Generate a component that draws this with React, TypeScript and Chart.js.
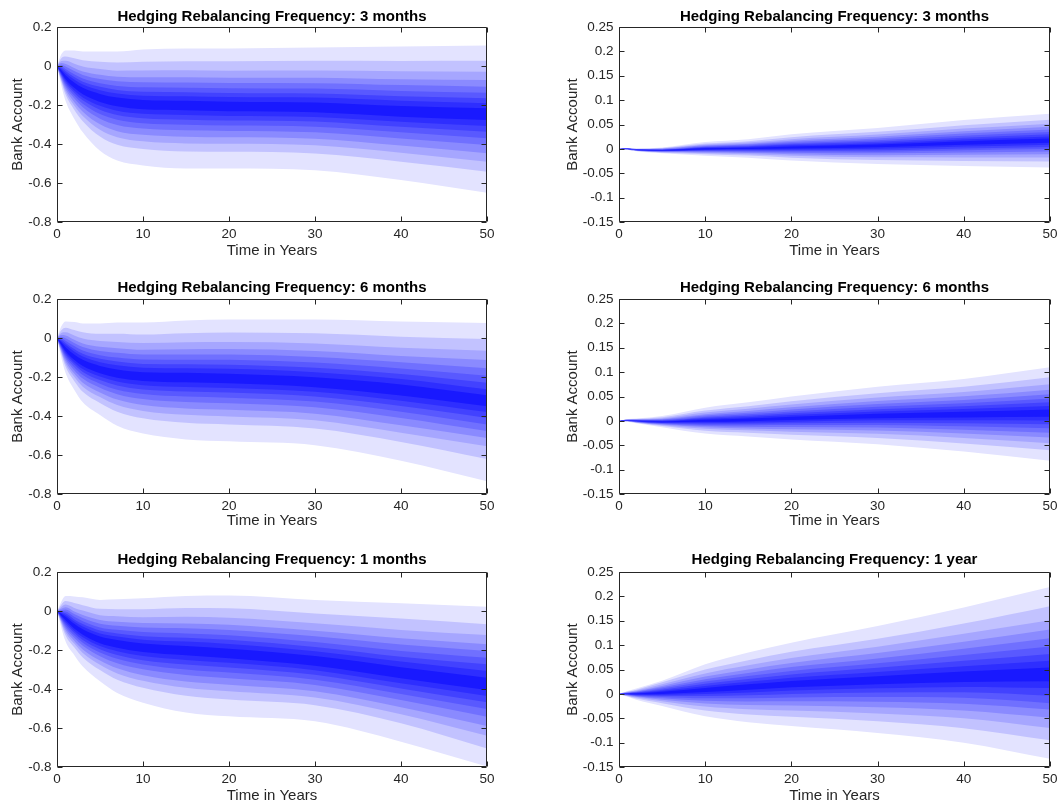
import React, { useEffect, useRef } from "react";
import { Chart, registerables } from "chart.js";

Chart.register(...registerables);

// ---------------- DATA ----------------
// Each column holds the 5th,10th,...,95th percentiles of the bank account at one time point.
const percentiles = [5, 10, 15, 20, 25, 30, 35, 40, 45, 50, 55, 60, 65, 70, 75, 80, 85, 90, 95];

const titles = [
  "Hedging Rebalancing Frequency: 3 months",
  "Hedging Rebalancing Frequency: 3 months",
  "Hedging Rebalancing Frequency: 6 months",
  "Hedging Rebalancing Frequency: 6 months",
  "Hedging Rebalancing Frequency: 1 months",
  "Hedging Rebalancing Frequency: 1 year",
];

const xTicks = [0, 10, 20, 30, 40, 50];
const leftYTicks = [-0.8, -0.6, -0.4, -0.2, 0, 0.2];
const rightYTicks = [-0.15, -0.1, -0.05, 0, 0.05, 0.1, 0.15, 0.2, 0.25];

const years3mLeft = [0, 0.5, 1, 2, 3, 5, 7, 10, 15, 20, 30, 40, 50];
const bank3mLeft = [
  [0, 0, 0, 0, 0, 0, 0, 0, 0, 0, 0, 0, 0, 0, 0, 0, 0, 0, 0],
  [-0.10, -0.081, -0.072, -0.065, -0.057, -0.051, -0.045, -0.040, -0.035, -0.03, -0.022, -0.015, -0.008, -0.001, 0.007, 0.015, 0.026, 0.040, 0.06],
  [-0.18, -0.148, -0.132, -0.119, -0.107, -0.096, -0.086, -0.077, -0.068, -0.06, -0.047, -0.036, -0.026, -0.015, -0.003, 0.010, 0.027, 0.049, 0.08],
  [-0.27, -0.224, -0.202, -0.184, -0.166, -0.151, -0.137, -0.125, -0.112, -0.10, -0.084, -0.069, -0.057, -0.042, -0.026, -0.010, 0.012, 0.040, 0.08],
  [-0.34, -0.283, -0.256, -0.234, -0.212, -0.193, -0.176, -0.161, -0.145, -0.13, -0.112, -0.095, -0.081, -0.064, -0.046, -0.028, -0.003, 0.030, 0.075],
  [-0.435, -0.362, -0.327, -0.299, -0.270, -0.246, -0.224, -0.204, -0.184, -0.165, -0.143, -0.124, -0.107, -0.088, -0.067, -0.045, -0.016, 0.022, 0.075],
  [-0.485, -0.404, -0.365, -0.334, -0.302, -0.275, -0.251, -0.229, -0.206, -0.185, -0.162, -0.141, -0.123, -0.102, -0.078, -0.055, -0.024, 0.018, 0.075],
  [-0.51, -0.426, -0.386, -0.353, -0.321, -0.293, -0.268, -0.245, -0.222, -0.20, -0.174, -0.152, -0.132, -0.109, -0.083, -0.058, -0.023, 0.022, 0.085],
  [-0.525, -0.439, -0.397, -0.363, -0.330, -0.301, -0.275, -0.251, -0.227, -0.205, -0.178, -0.155, -0.134, -0.111, -0.084, -0.058, -0.022, 0.025, 0.09],
  [-0.525, -0.44, -0.399, -0.366, -0.333, -0.305, -0.279, -0.256, -0.232, -0.21, -0.183, -0.159, -0.138, -0.114, -0.087, -0.06, -0.024, 0.024, 0.09],
  [-0.535, -0.449, -0.407, -0.373, -0.340, -0.311, -0.285, -0.261, -0.237, -0.215, -0.187, -0.162, -0.141, -0.116, -0.088, -0.06, -0.023, 0.027, 0.095],
  [-0.585, -0.491, -0.445, -0.408, -0.372, -0.34, -0.312, -0.286, -0.26, -0.235, -0.205, -0.178, -0.155, -0.128, -0.098, -0.068, -0.027, 0.026, 0.10],
  [-0.65, -0.542, -0.491, -0.448, -0.405, -0.371, -0.337, -0.308, -0.277, -0.25, -0.217, -0.191, -0.166, -0.137, -0.106, -0.072, -0.029, 0.027, 0.105],
];

const years6mLeft = [0, 0.5, 1, 2, 3, 5, 7, 10, 15, 20, 30, 40, 50];
const bank6mLeft = [
  [0, 0, 0, 0, 0, 0, 0, 0, 0, 0, 0, 0, 0, 0, 0, 0, 0, 0, 0],
  [-0.10, -0.081, -0.072, -0.065, -0.057, -0.051, -0.045, -0.040, -0.035, -0.03, -0.022, -0.015, -0.008, -0.001, 0.007, 0.015, 0.026, 0.040, 0.06],
  [-0.18, -0.148, -0.132, -0.119, -0.107, -0.096, -0.086, -0.077, -0.068, -0.06, -0.047, -0.035, -0.025, -0.014, -0.001, 0.013, 0.030, 0.053, 0.085],
  [-0.265, -0.22, -0.199, -0.182, -0.165, -0.15, -0.136, -0.124, -0.112, -0.10, -0.084, -0.069, -0.056, -0.041, -0.025, -0.009, 0.013, 0.041, 0.082],
  [-0.33, -0.276, -0.25, -0.229, -0.208, -0.19, -0.174, -0.159, -0.144, -0.13, -0.112, -0.095, -0.081, -0.064, -0.046, -0.028, -0.003, 0.030, 0.075],
  [-0.395, -0.333, -0.303, -0.279, -0.255, -0.234, -0.216, -0.198, -0.181, -0.165, -0.143, -0.124, -0.107, -0.088, -0.067, -0.045, -0.016, 0.022, 0.075],
  [-0.45, -0.378, -0.344, -0.316, -0.288, -0.265, -0.243, -0.223, -0.204, -0.185, -0.161, -0.14, -0.121, -0.10, -0.076, -0.052, -0.021, 0.022, 0.08],
  [-0.49, -0.412, -0.374, -0.344, -0.313, -0.287, -0.264, -0.242, -0.22, -0.20, -0.175, -0.152, -0.133, -0.11, -0.085, -0.06, -0.026, 0.018, 0.08],
  [-0.52, -0.435, -0.394, -0.361, -0.328, -0.30, -0.274, -0.251, -0.227, -0.205, -0.178, -0.155, -0.134, -0.111, -0.084, -0.058, -0.022, 0.025, 0.09],
  [-0.53, -0.444, -0.402, -0.368, -0.335, -0.306, -0.28, -0.256, -0.232, -0.21, -0.183, -0.158, -0.137, -0.112, -0.085, -0.057, -0.021, 0.028, 0.095],
  [-0.55, -0.464, -0.422, -0.388, -0.355, -0.326, -0.30, -0.276, -0.252, -0.23, -0.201, -0.175, -0.152, -0.126, -0.097, -0.067, -0.028, 0.024, 0.095],
  [-0.63, -0.533, -0.486, -0.448, -0.41, -0.378, -0.349, -0.322, -0.295, -0.27, -0.238, -0.21, -0.185, -0.156, -0.124, -0.092, -0.05, 0.007, 0.085],
  [-0.735, -0.62, -0.555, -0.513, -0.477, -0.443, -0.41, -0.38, -0.35, -0.322, -0.293, -0.263, -0.23, -0.193, -0.155, -0.113, -0.065, -0.005, 0.077],
];

const years1mLeft = [0, 1, 2, 3, 5, 7, 10, 15, 20, 30, 40, 50];
const bank1mLeft = [
  [0, 0, 0, 0, 0, 0, 0, 0, 0, 0, 0, 0, 0, 0, 0, 0, 0, 0, 0],
  [-0.157, -0.125, -0.11, -0.098, -0.086, -0.075, -0.066, -0.057, -0.048, -0.04, -0.029, -0.02, -0.012, -0.003, 0.008, 0.019, 0.033, 0.051, 0.077],
  [-0.225, -0.186, -0.167, -0.152, -0.137, -0.124, -0.112, -0.101, -0.09, -0.08, -0.066, -0.054, -0.043, -0.03, -0.016, -0.002, 0.016, 0.041, 0.075],
  [-0.285, -0.238, -0.215, -0.197, -0.178, -0.163, -0.149, -0.135, -0.122, -0.11, -0.094, -0.079, -0.067, -0.052, -0.036, -0.02, 0.002, 0.03, 0.07],
  [-0.36, -0.303, -0.276, -0.254, -0.232, -0.213, -0.196, -0.18, -0.165, -0.15, -0.131, -0.115, -0.10, -0.084, -0.065, -0.046, -0.022, 0.011, 0.057],
  [-0.42, -0.353, -0.32, -0.294, -0.268, -0.245, -0.225, -0.206, -0.188, -0.17, -0.149, -0.131, -0.115, -0.096, -0.076, -0.055, -0.027, 0.009, 0.06],
  [-0.47, -0.394, -0.358, -0.329, -0.299, -0.274, -0.252, -0.231, -0.21, -0.19, -0.167, -0.147, -0.129, -0.108, -0.085, -0.062, -0.032, 0.009, 0.065],
  [-0.52, -0.435, -0.394, -0.361, -0.328, -0.30, -0.274, -0.251, -0.227, -0.205, -0.18, -0.157, -0.137, -0.115, -0.089, -0.064, -0.03, 0.015, 0.077],
  [-0.54, -0.454, -0.412, -0.378, -0.345, -0.316, -0.29, -0.266, -0.242, -0.22, -0.193, -0.169, -0.148, -0.124, -0.097, -0.07, -0.034, 0.014, 0.08],
  [-0.566, -0.483, -0.444, -0.411, -0.379, -0.352, -0.327, -0.304, -0.281, -0.26, -0.231, -0.206, -0.184, -0.159, -0.13, -0.101, -0.063, -0.013, 0.057],
  [-0.67, -0.576, -0.53, -0.493, -0.457, -0.425, -0.397, -0.371, -0.345, -0.32, -0.288, -0.259, -0.234, -0.205, -0.172, -0.14, -0.097, -0.039, 0.04],
  [-0.798, -0.705, -0.64, -0.59, -0.542, -0.503, -0.468, -0.436, -0.405, -0.371, -0.342, -0.308, -0.273, -0.24, -0.205, -0.171, -0.123, -0.068, 0.022],
];

const years3mRight = [0, 1, 2, 5, 10, 15, 20, 30, 40, 50];
const bank3mRight = [
  [0, 0, 0, 0, 0, 0, 0, 0, 0, 0, 0, 0, 0, 0, 0, 0, 0, 0, 0],
  [-0.002, -0.0016, -0.0013, -0.001, -0.0008, -0.0006, -0.0005, -0.0003, -0.0002, 0, 0.0002, 0.0003, 0.0005, 0.0006, 0.0008, 0.001, 0.0013, 0.0016, 0.002],
  [-0.005, -0.0043, -0.0039, -0.0035, -0.0032, -0.003, -0.0027, -0.0025, -0.0022, -0.002, -0.0018, -0.0015, -0.0013, -0.001, -0.0008, -0.0005, -0.0001, 0.0003, 0.001],
  [-0.009, -0.0077, -0.0068, -0.0061, -0.0055, -0.0049, -0.0044, -0.0039, -0.0035, -0.003, -0.0025, -0.0021, -0.0016, -0.0011, -0.0005, 0.0001, 0.0008, 0.0017, 0.003],
  [-0.014, -0.0109, -0.0088, -0.0072, -0.0057, -0.0045, -0.0033, -0.0022, -0.0011, 0, 0.0011, 0.0022, 0.0033, 0.0045, 0.0057, 0.0072, 0.0088, 0.0109, 0.014],
  [-0.018, -0.0138, -0.011, -0.0087, -0.0068, -0.0051, -0.0034, -0.0019, -0.0005, 0.001, 0.0025, 0.0039, 0.0054, 0.0071, 0.0088, 0.0107, 0.013, 0.0158, 0.02],
  [-0.024, -0.0181, -0.014, -0.0108, -0.0081, -0.0056, -0.0033, -0.0012, 0.0009, 0.003, 0.0051, 0.0072, 0.0093, 0.0116, 0.0141, 0.0168, 0.02, 0.0241, 0.03],
  [-0.031, -0.0229, -0.0173, -0.0129, -0.0092, -0.0058, -0.0027, 0.0003, 0.0032, 0.006, 0.0088, 0.0117, 0.0147, 0.0178, 0.0212, 0.0249, 0.0293, 0.0349, 0.043],
  [-0.035, -0.0247, -0.0176, -0.0121, -0.0073, -0.003, 0.001, 0.0048, 0.0084, 0.012, 0.0156, 0.0192, 0.023, 0.027, 0.0313, 0.0361, 0.0416, 0.0487, 0.059],
  [-0.038, -0.0259, -0.0177, -0.0112, -0.0056, -0.0005, 0.0041, 0.0085, 0.0128, 0.017, 0.0212, 0.0255, 0.0299, 0.0345, 0.0396, 0.0452, 0.0517, 0.0599, 0.072],
];

const years6mRight = [0, 1, 2, 5, 10, 15, 20, 30, 40, 50];
const bank6mRight = [
  [0, 0, 0, 0, 0, 0, 0, 0, 0, 0, 0, 0, 0, 0, 0, 0, 0, 0, 0],
  [-0.002, -0.0013, -0.0009, -0.0005, -0.0002, 0, 0.0003, 0.0005, 0.0008, 0.001, 0.0012, 0.0015, 0.0017, 0.002, 0.0022, 0.0025, 0.0029, 0.0033, 0.004],
  [-0.005, -0.0039, -0.0032, -0.0026, -0.0021, -0.0016, -0.0012, -0.0008, -0.0004, 0, 0.0004, 0.0008, 0.0012, 0.0016, 0.0021, 0.0026, 0.0032, 0.0039, 0.005],
  [-0.013, -0.0106, -0.0089, -0.0076, -0.0065, -0.0055, -0.0046, -0.0037, -0.0028, -0.002, -0.0011, -0.0002, 0.0008, 0.0018, 0.0029, 0.0041, 0.0056, 0.0074, 0.01],
  [-0.026, -0.0203, -0.0164, -0.0133, -0.0107, -0.0083, -0.0061, -0.004, -0.002, 0, 0.0021, 0.0042, 0.0063, 0.0086, 0.0111, 0.0138, 0.017, 0.0211, 0.027],
  [-0.032, -0.0245, -0.0194, -0.0154, -0.0119, -0.0088, -0.006, -0.0032, -0.0006, 0.002, 0.0048, 0.0075, 0.0104, 0.0135, 0.0168, 0.0204, 0.0247, 0.0301, 0.038],
  [-0.038, -0.0285, -0.0221, -0.017, -0.0126, -0.0087, -0.0051, -0.0016, 0.0017, 0.005, 0.0085, 0.0119, 0.0155, 0.0194, 0.0235, 0.028, 0.0334, 0.0401, 0.05],
  [-0.048, -0.0352, -0.0265, -0.0197, -0.0138, -0.0085, -0.0036, 0.0011, 0.0055, 0.01, 0.0146, 0.0192, 0.024, 0.0291, 0.0346, 0.0407, 0.0478, 0.0568, 0.07],
  [-0.063, -0.0463, -0.0349, -0.0259, -0.0182, -0.0112, -0.0048, 0.0013, 0.0071, 0.013, 0.0186, 0.0242, 0.0301, 0.0363, 0.0429, 0.0504, 0.059, 0.0699, 0.086],
  [-0.082, -0.0604, -0.0457, -0.0342, -0.0242, -0.0153, -0.0069, 0.0009, 0.0085, 0.016, 0.0232, 0.0305, 0.038, 0.046, 0.0545, 0.0641, 0.0752, 0.0893, 0.11],
];

const years1yRight = [0, 1, 2, 5, 10, 15, 20, 30, 40, 50];
const bank1yRight = [
  [0, 0, 0, 0, 0, 0, 0, 0, 0, 0, 0, 0, 0, 0, 0, 0, 0, 0, 0],
  [-0.006, -0.0047, -0.0038, -0.0031, -0.0025, -0.0019, -0.0014, -0.0009, -0.0005, 0, 0.0005, 0.0009, 0.0014, 0.0019, 0.0025, 0.0031, 0.0038, 0.0047, 0.006],
  [-0.012, -0.0094, -0.0076, -0.0061, -0.0049, -0.0038, -0.0028, -0.0018, -0.0009, 0, 0.0008, 0.0017, 0.0026, 0.0035, 0.0045, 0.0056, 0.0069, 0.0086, 0.011],
  [-0.025, -0.0191, -0.015, -0.0118, -0.0091, -0.0066, -0.0043, -0.0022, -0.0001, 0.002, 0.0042, 0.0063, 0.0086, 0.0109, 0.0135, 0.0163, 0.0196, 0.0238, 0.027],
  [-0.046, -0.0341, -0.026, -0.0196, -0.0141, -0.0092, -0.0046, -0.0003, 0.0038, 0.008, 0.0122, 0.0163, 0.0206, 0.0252, 0.03, 0.0355, 0.0418, 0.0498, 0.061],
  [-0.058, -0.0422, -0.0314, -0.0229, -0.0155, -0.009, -0.0028, 0.0029, 0.0085, 0.014, 0.0195, 0.025, 0.0306, 0.0366, 0.043, 0.0502, 0.0585, 0.069, 0.085],
  [-0.066, -0.0471, -0.0342, -0.024, -0.0153, -0.0074, -0.0001, 0.0068, 0.0134, 0.02, 0.0265, 0.0331, 0.0399, 0.0471, 0.0549, 0.0635, 0.0736, 0.0863, 0.105],
  [-0.08, -0.0562, -0.04, -0.0273, -0.0163, -0.0065, 0.0027, 0.0114, 0.0197, 0.028, 0.0364, 0.0448, 0.0535, 0.0628, 0.0727, 0.0838, 0.0967, 0.113, 0.139],
  [-0.1, -0.0703, -0.05, -0.0341, -0.0204, -0.0081, 0.0034, 0.0142, 0.0246, 0.035, 0.0458, 0.0566, 0.0678, 0.0797, 0.0924, 0.1067, 0.1232, 0.1442, 0.177],
  [-0.133, -0.095, -0.07, -0.049, -0.032, -0.019, -0.004, 0.012, 0.026, 0.04, 0.054, 0.068, 0.082, 0.097, 0.114, 0.132, 0.151, 0.18, 0.219],
];

// ---------------- LAYOUT / STYLE ----------------
const FONT = "'Liberation Sans', Arial, Helvetica, sans-serif";
const AXIS_COLOR = "#262626";
// blue intensity of the nested bands, from the outermost (5-95) to the central one (45-55)
const bandShades = [0.11, 0.24, 0.35, 0.46, 0.56, 0.65, 0.74, 0.82, 0.9];

const columnsLayout = [
  { cx: 0, cw: 530, L: 57, R: 487, yTitlePad: 10.8 },
  { cx: 530, cw: 533, L: 619, R: 1050, yTitlePad: 35 },
];
const rowsLayout = [
  { cy: 0, ch: 268, T: 27, B: 222, titleMid: 16.7, xTitleMid: 250.7 },
  { cy: 268, ch: 272, T: 299, B: 494, titleMid: 288, xTitleMid: 521 },
  { cy: 540, ch: 263, T: 572, B: 767, titleMid: 560, xTitleMid: 795.5 },
];

type PanelSpec = {
  title: string;
  times: number[];
  cols: number[][];
  yTicks: number[];
  row: number;
  col: number;
};

const panels: PanelSpec[] = [
  { title: titles[0], times: years3mLeft, cols: bank3mLeft, yTicks: leftYTicks, row: 0, col: 0 },
  { title: titles[1], times: years3mRight, cols: bank3mRight, yTicks: rightYTicks, row: 0, col: 1 },
  { title: titles[2], times: years6mLeft, cols: bank6mLeft, yTicks: leftYTicks, row: 1, col: 0 },
  { title: titles[3], times: years6mRight, cols: bank6mRight, yTicks: rightYTicks, row: 1, col: 1 },
  { title: titles[4], times: years1mLeft, cols: bank1mLeft, yTicks: leftYTicks, row: 2, col: 0 },
  { title: titles[5], times: years1yRight, cols: bank1yRight, yTicks: rightYTicks, row: 2, col: 1 },
];

function shade(level: number) {
  const a = bandShades[Math.min(level, bandShades.length - 1)];
  const c = Math.round(255 * (1 - a));
  return `rgb(${c},${c},255)`;
}

const boxPlugin = {
  id: "matlabBox",
  afterDraw(chart: any) {
    const { ctx, chartArea, scales } = chart;
    const L = Math.round(chartArea.left) + 0.5;
    const R = Math.round(chartArea.right) - 0.5;
    const T = Math.round(chartArea.top) + 0.5;
    const B = Math.round(chartArea.bottom) - 0.5;
    ctx.save();
    ctx.strokeStyle = AXIS_COLOR;
    ctx.lineWidth = 1;
    ctx.beginPath();
    ctx.rect(L, T, R - L, B - T);
    const tl = 5;
    scales.x.ticks.forEach((t: any) => {
      const px = Math.round(scales.x.getPixelForValue(t.value)) + 0.5;
      ctx.moveTo(px, B);
      ctx.lineTo(px, B - tl);
      ctx.moveTo(px, T);
      ctx.lineTo(px, T + tl);
    });
    scales.y.ticks.forEach((t: any) => {
      const py = Math.round(scales.y.getPixelForValue(t.value)) + 0.5;
      ctx.moveTo(L, py);
      ctx.lineTo(L + tl, py);
      ctx.moveTo(R, py);
      ctx.lineTo(R - tl, py);
    });
    ctx.stroke();
    ctx.restore();
  },
};

function Panel({ spec }: { spec: PanelSpec }) {
  const ref = useRef<HTMLCanvasElement>(null);
  const colL = columnsLayout[spec.col];
  const rowL = rowsLayout[spec.row];

  useEffect(() => {
    const canvas = ref.current;
    if (!canvas) return;
    const n = percentiles.length; // 19 lines
    const half = Math.floor(n / 2); // 9 nested bands
    // Lower percentile line k (k < 9) fills up to its mirror line (n-1-k);
    // outer bands are drawn first (higher order), inner darker bands on top.
    const datasets = percentiles.map((p, k) => {
      const isLower = k < half;
      return {
        label: `P${p}`,
        data: spec.times.map((t, j) => ({ x: t, y: spec.cols[j][k] })),
        fill: isLower ? n - 1 - k : false,
        backgroundColor: isLower ? shade(k) : "transparent",
        borderColor: "transparent",
        borderWidth: 0,
        pointRadius: 0,
        order: isLower ? 100 - k : 0,
        cubicInterpolationMode: "monotone" as const,
      };
    });

    const yMin = spec.yTicks[0];
    const yMax = spec.yTicks[spec.yTicks.length - 1];
    const titlePadTop = rowL.titleMid - rowL.cy - 7.5;
    const titlePadBottom = rowL.T - rowL.cy - 15 - titlePadTop;
    const xTitlePad = Math.max(0, rowL.cy + rowL.ch - rowL.xTitleMid - 7.5);

    const chart = new Chart(canvas, {
      type: "line",
      data: { datasets },
      plugins: [boxPlugin],
      options: {
        responsive: false,
        animation: false,
        events: [],
        layout: {
          padding: { left: 0, top: 0, bottom: 0, right: colL.cx + colL.cw - colL.R },
        },
        plugins: {
          legend: { display: false },
          tooltip: { enabled: false },
          title: {
            display: true,
            text: spec.title,
            fullSize: false,
            color: "#000",
            font: { family: FONT, size: 15, weight: "bold", lineHeight: 1 },
            padding: { top: titlePadTop, bottom: titlePadBottom },
          },
          filler: { propagate: false },
        },
        scales: {
          x: {
            type: "linear",
            min: 0,
            max: 50,
            grid: { display: false, drawTicks: false },
            border: { display: false },
            afterBuildTicks: (s: any) => {
              s.ticks = xTicks.map((v) => ({ value: v }));
            },
            afterFit: (s: any) => {
              s.height = rowL.cy + rowL.ch - rowL.B;
            },
            ticks: {
              autoSkip: false,
              maxRotation: 0,
              padding: 4,
              color: AXIS_COLOR,
              font: { family: FONT, size: 13.5 },
              callback: (v: any) => String(v),
            },
            title: {
              display: true,
              text: "Time in Years",
              color: AXIS_COLOR,
              font: { family: FONT, size: 15, lineHeight: 1 },
              padding: { top: 0, bottom: xTitlePad },
            },
          },
          y: {
            type: "linear",
            min: yMin,
            max: yMax,
            grid: { display: false, drawTicks: false },
            border: { display: false },
            afterBuildTicks: (s: any) => {
              s.ticks = spec.yTicks.map((v) => ({ value: v }));
            },
            afterFit: (s: any) => {
              s.width = colL.L - colL.cx;
            },
            ticks: {
              autoSkip: false,
              padding: 5.5,
              color: AXIS_COLOR,
              font: { family: FONT, size: 13.5 },
              callback: (v: any) => String(v),
            },
            title: {
              display: true,
              text: "Bank Account",
              color: AXIS_COLOR,
              font: { family: FONT, size: 15, lineHeight: 1 },
              padding: { top: colL.yTitlePad, bottom: 0 },
            },
          },
        },
      } as any,
    });
    return () => chart.destroy();
  }, []);

  return (
    <canvas
      ref={ref}
      width={colL.cw}
      height={rowL.ch}
      style={{ position: "absolute", left: colL.cx, top: rowL.cy, width: colL.cw, height: rowL.ch }}
    />
  );
}

export default function App() {
  return (
    <div
      style={{
        position: "absolute",
        left: 0,
        top: 0,
        width: 1063,
        height: 803,
        background: "#ffffff",
        overflow: "hidden",
      }}
    >
      {panels.map((p, i) => (
        <Panel key={i} spec={p} />
      ))}
    </div>
  );
}
